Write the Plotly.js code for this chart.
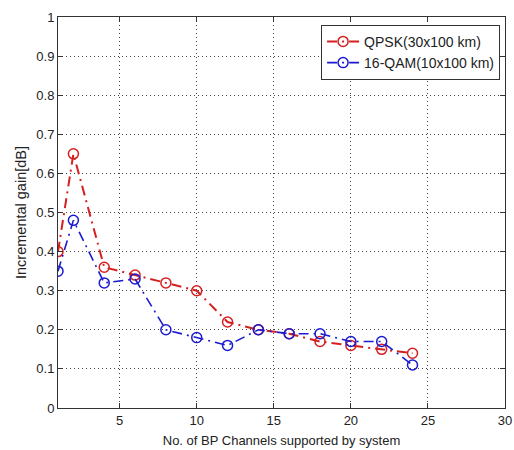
<!DOCTYPE html>
<html><head><meta charset="utf-8">
<script src="https://cdn.plot.ly/plotly-3.0.1.min.js"></script>
<style>html,body{margin:0;padding:0;background:#fff}#c{width:514px;height:450px}</style>
</head><body><div id="c"></div>
<script>
const channels = [1, 2, 4, 6, 8, 10, 12, 14, 16, 18, 20, 22, 24];
const qpsk = [0.40, 0.65, 0.36, 0.34, 0.32, 0.30, 0.22, 0.20, 0.19, 0.17, 0.16, 0.15, 0.14];
const qam16 = [0.35, 0.48, 0.32, 0.33, 0.20, 0.18, 0.16, 0.20, 0.19, 0.19, 0.17, 0.17, 0.11];
const names = ['QPSK(30x100 km)', '16-QAM(10x100 km)'];
const xTicks = [5, 10, 15, 20, 25, 30];
const yTicks = [0, 0.1, 0.2, 0.3, 0.4, 0.5, 0.6, 0.7, 0.8, 0.9, 1];

const fam = 'Liberation Sans, Arial, sans-serif';
const tickFont = {family: fam, size: 13, color: '#222'};
const traces = [
  {x: channels, y: qpsk, name: names[0], mode: 'lines+markers',
   line: {color: '#d42020', width: 2, dash: '10px,5px,2px,5px'},
   marker: {symbol: 'circle-open', size: 10, color: '#d42020', line: {width: 1.5}}},
  {x: channels, y: qam16, name: names[1], mode: 'lines+markers',
   line: {color: '#1a1ad0', width: 1.6, dash: '10px,5px,2px,5px'},
   marker: {symbol: 'circle-open', size: 10, color: '#1a1ad0', line: {width: 1.5}}}
];
const axisCommon = {
  showline: true, linecolor: '#333', linewidth: 1, mirror: 'ticks',
  ticks: 'inside', ticklen: 5, tickcolor: '#333',
  showgrid: true, gridcolor: '#444', gridwidth: 1, griddash: '1px,3px',
  zeroline: false, tickfont: tickFont
};
const layout = {
  width: 514, height: 450,
  margin: {l: 58, r: 9, t: 17, b: 42},
  paper_bgcolor: '#fff', plot_bgcolor: '#fff',
  font: tickFont,
  xaxis: Object.assign({}, axisCommon, {range: [1, 30], tickvals: xTicks, ticktext: xTicks.map(String),
    title: {text: 'No. of BP Channels supported by system', font: {family: fam, size: 13, color: '#222'}, standoff: 9}}),
  yaxis: Object.assign({}, axisCommon, {range: [0, 1], tickvals: yTicks, ticktext: yTicks.map(String),
    title: {text: 'Incremental gain[dB]', font: {family: fam, size: 14.5, color: '#222'}, standoff: 6}}),
  showlegend: true,
  legend: {x: 0.989, y: 0.98, xanchor: 'right', yanchor: 'top', bgcolor: '#fff',
    bordercolor: '#333', borderwidth: 1, font: {family: fam, size: 14, color: '#222'},
    itemwidth: 32, tracegroupgap: 0}
};
Plotly.newPlot('c', traces, layout, {displayModeBar: false, staticPlot: true});
</script></body></html>
